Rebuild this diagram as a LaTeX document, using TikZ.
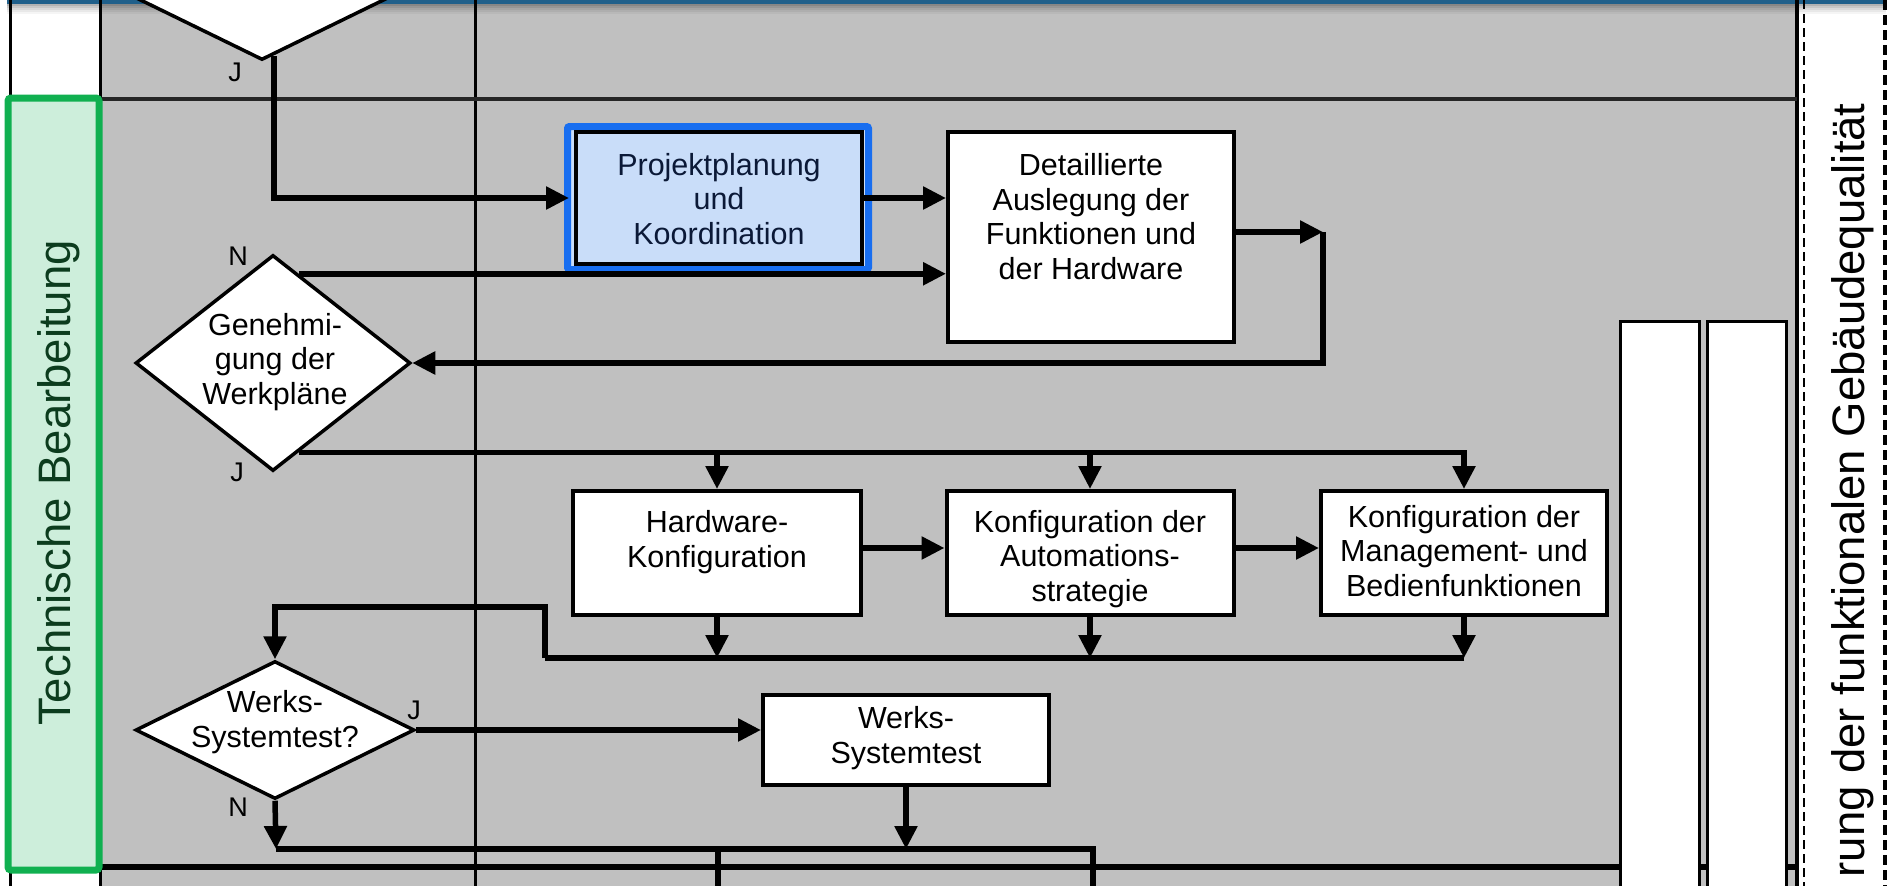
\documentclass[tikz,border=0pt]{standalone}
\usepackage{fontspec}
\setmainfont{Liberation Sans}
\usetikzlibrary{arrows.meta,calc,shapes.geometric}

\definecolor{lanegray}{RGB}{192,192,192}
\definecolor{topbar}{RGB}{31,95,138}
\definecolor{lanegreen}{RGB}{16,176,80}
\definecolor{lanefill}{RGB}{205,238,219}
\definecolor{labelgreen}{RGB}{12,60,30}
\definecolor{hlblue}{RGB}{24,110,240}
\definecolor{hlfill}{RGB}{201,221,249}
\definecolor{navytext}{RGB}{11,25,55}

\tikzset{
  conn/.style={line width=5.5pt, draw=black},
  arrow/.style={conn, -{Triangle[length=23pt,width=22pt]}},
  stepbox/.style={rectangle, draw=black, line width=4pt, fill=white, inner sep=0pt},
  decision/.style={diamond, draw=black, line width=3.5pt, fill=white, inner sep=0pt},
  boxtext/.style={align=center, inner sep=0pt, font=\fontsize{30.5}{34.5}\selectfont},
  yn/.style={inner sep=0pt, font=\fontsize{27}{27}\selectfont},
  lanelabel/.style={inner sep=0pt, rotate=90, font=\fontsize{45.5}{46}\selectfont},
  laneline/.style={line width=3pt, draw=black},
}

\begin{document}
\begin{tikzpicture}[x=1pt,y=-1pt]
\useasboundingbox (0,0) rectangle (1893,886);
\clip (0,0) rectangle (1893,886);

% ---------- swimlane background ----------
\fill[white] (0,0) rectangle (1893,886);
\fill[lanegray] (100,0) rectangle (1797,886);

% title bar with its soft shadow
\foreach \i/\o in {0/0.30,1/0.22,2/0.15,3/0.09,4/0.04}
  \fill[black, opacity=\o] (7,3.5+2*\i) rectangle (1886,5.5+2*\i);
\fill[topbar] (7,0) rectangle (1886,3.5);

% lane borders
\draw[laneline] (10,0) -- (10,886);
\draw[laneline] (100,0) -- (100,886);
\draw[laneline] (475,0) -- (475,886);
\draw[line width=3.5pt] (1797,0) -- (1797,886);
\draw[line width=4.5pt, draw=black!85] (100,99) -- (1797,99);
\draw[line width=6pt] (10,867) -- (1797,867);

% lane title
\draw[lanegreen, line width=7pt, fill=lanefill, rounded corners=3pt] (8,98) rectangle (99,870);
\node[lanelabel, text=labelgreen, anchor=base] (lanetitle) at (70,483) {Technische Bearbeitung};

% columns on the right
\draw[line width=3pt, fill=white] (1620,321) rectangle (1699,900);
\draw[line width=3pt, fill=white] (1707,321) rectangle (1786,900);
\draw[line width=2.5pt, dash pattern=on 9pt off 5pt] (1804,0) -- (1804,886);
\draw[line width=4pt, dash pattern=on 10pt off 5pt] (1885,0) -- (1885,886);
\node[lanelabel, anchor=base east] (phase) at (1864,103) {rung der funktionalen Gebäudequalität};

% ---------- flow elements ----------
\node[decision, minimum width=490pt, minimum height=240pt] (topdec) at (262,-60) {};
\node[yn] (jtop) at (235,72) {J};

% highlighted step
\draw[hlblue, line width=7pt, fill=hlfill, rounded corners=2pt] (567.5,126.5) rectangle (868.5,269.5);
\node[stepbox, fill=hlfill, minimum width=286pt, minimum height=132pt] (proj) at (719,198) {};
\node[boxtext, text=navytext] (projtext) at (719,199) {Projektplanung\\und\\Koordination};

\node[stepbox, minimum width=286pt, minimum height=210pt] (det) at (1091,237) {};
\node[boxtext] (dettext) at (1091,216.5) {Detaillierte\\Auslegung der\\Funktionen und\\der Hardware};

\node[decision, minimum width=275pt, minimum height=216pt] (gen) at (273,363) {};
\node[boxtext] (gentext) at (275,362) {Genehmi-\\gung der\\Werkpläne};
\node[yn] (ngen) at (238,256) {N};
\node[yn] (jgen) at (237,472) {J};

\node[stepbox, minimum width=288pt, minimum height=124pt] (hw) at (717,553) {};
\node[boxtext] (hwtext) at (717,542) {Hardware-\\Konfiguration};

\node[stepbox, minimum width=287pt, minimum height=124pt] (au) at (1090,553) {};
\node[boxtext] (autext) at (1090,559) {Konfiguration der\\Automations-\\strategie};

\node[stepbox, minimum width=286pt, minimum height=124pt] (mg) at (1464,553) {};
\node[boxtext] (mgtext) at (1464,551) {Konfiguration der\\Management- und\\Bedienfunktionen};

\node[decision, minimum width=279pt, minimum height=138pt] (wd) at (275,730) {};
\node[boxtext] (wdtext) at (275,722) {Werks-\\Systemtest?};
\node[yn] (jwd) at (414,710) {J};
\node[yn] (nwd) at (238,807) {N};

\node[stepbox, minimum width=286pt, minimum height=90pt] (ws) at (906,740) {};
\node[boxtext] (wstext) at (906,738) {Werks-\\Systemtest};

% ---------- connectors ----------
\coordinate (tj) at (274,56);
\draw[arrow, shorten >=5pt] (tj) |- (proj.west);
\draw[arrow] (proj.east) -- (proj.east -| det.west);

\coordinate (gn) at ($(gen.north)!0.187!(gen.east)$);
\draw[arrow] (gn) -- (gn -| det.west);

\coordinate (dr) at (1323,232);
\draw[arrow] (dr -| det.east) -- (dr);
\draw[arrow] (dr) |- (gen.east);

\coordinate (gj) at ($(gen.east)!0.815!(gen.south)$);
\draw[arrow] (gj) -| (mg.north);
\draw[arrow] (gj -| hw.north) -- (hw.north);
\draw[arrow] (gj -| au.north) -- (au.north);

\draw[arrow] ([yshift=5pt]hw.east) -- ([yshift=5pt]au.west);
\draw[arrow] ([yshift=5pt]au.east) -- ([yshift=5pt]mg.west);

\coordinate (bus) at (545,658);
\coordinate (bk) at (545,607);
\draw[arrow] (hw.south) -- (hw.south |- bus);
\draw[arrow] (au.south) -- (au.south |- bus);
\draw[arrow] (mg.south) -- (mg.south |- bus);
\draw[conn] (bus -| mg.south) -- (bus);
\draw[arrow] (bus) -- (bk) -| (wd.north);

\draw[arrow] (wd.east) -- (wd.east -| ws.west);

\coordinate (nb) at (276,849);
\coordinate (nb2) at (1093,849);
\coordinate (out1) at (718,890);
\coordinate (out2) at (1093,890);
\draw[arrow] (wd.south) -- (nb);
\draw[arrow] (ws.south) -- (ws.south |- nb);
\draw[conn] (nb) -- (nb2) -- (out2);
\draw[conn] (out1 |- nb) -- (out1);
\end{tikzpicture}
\end{document}
